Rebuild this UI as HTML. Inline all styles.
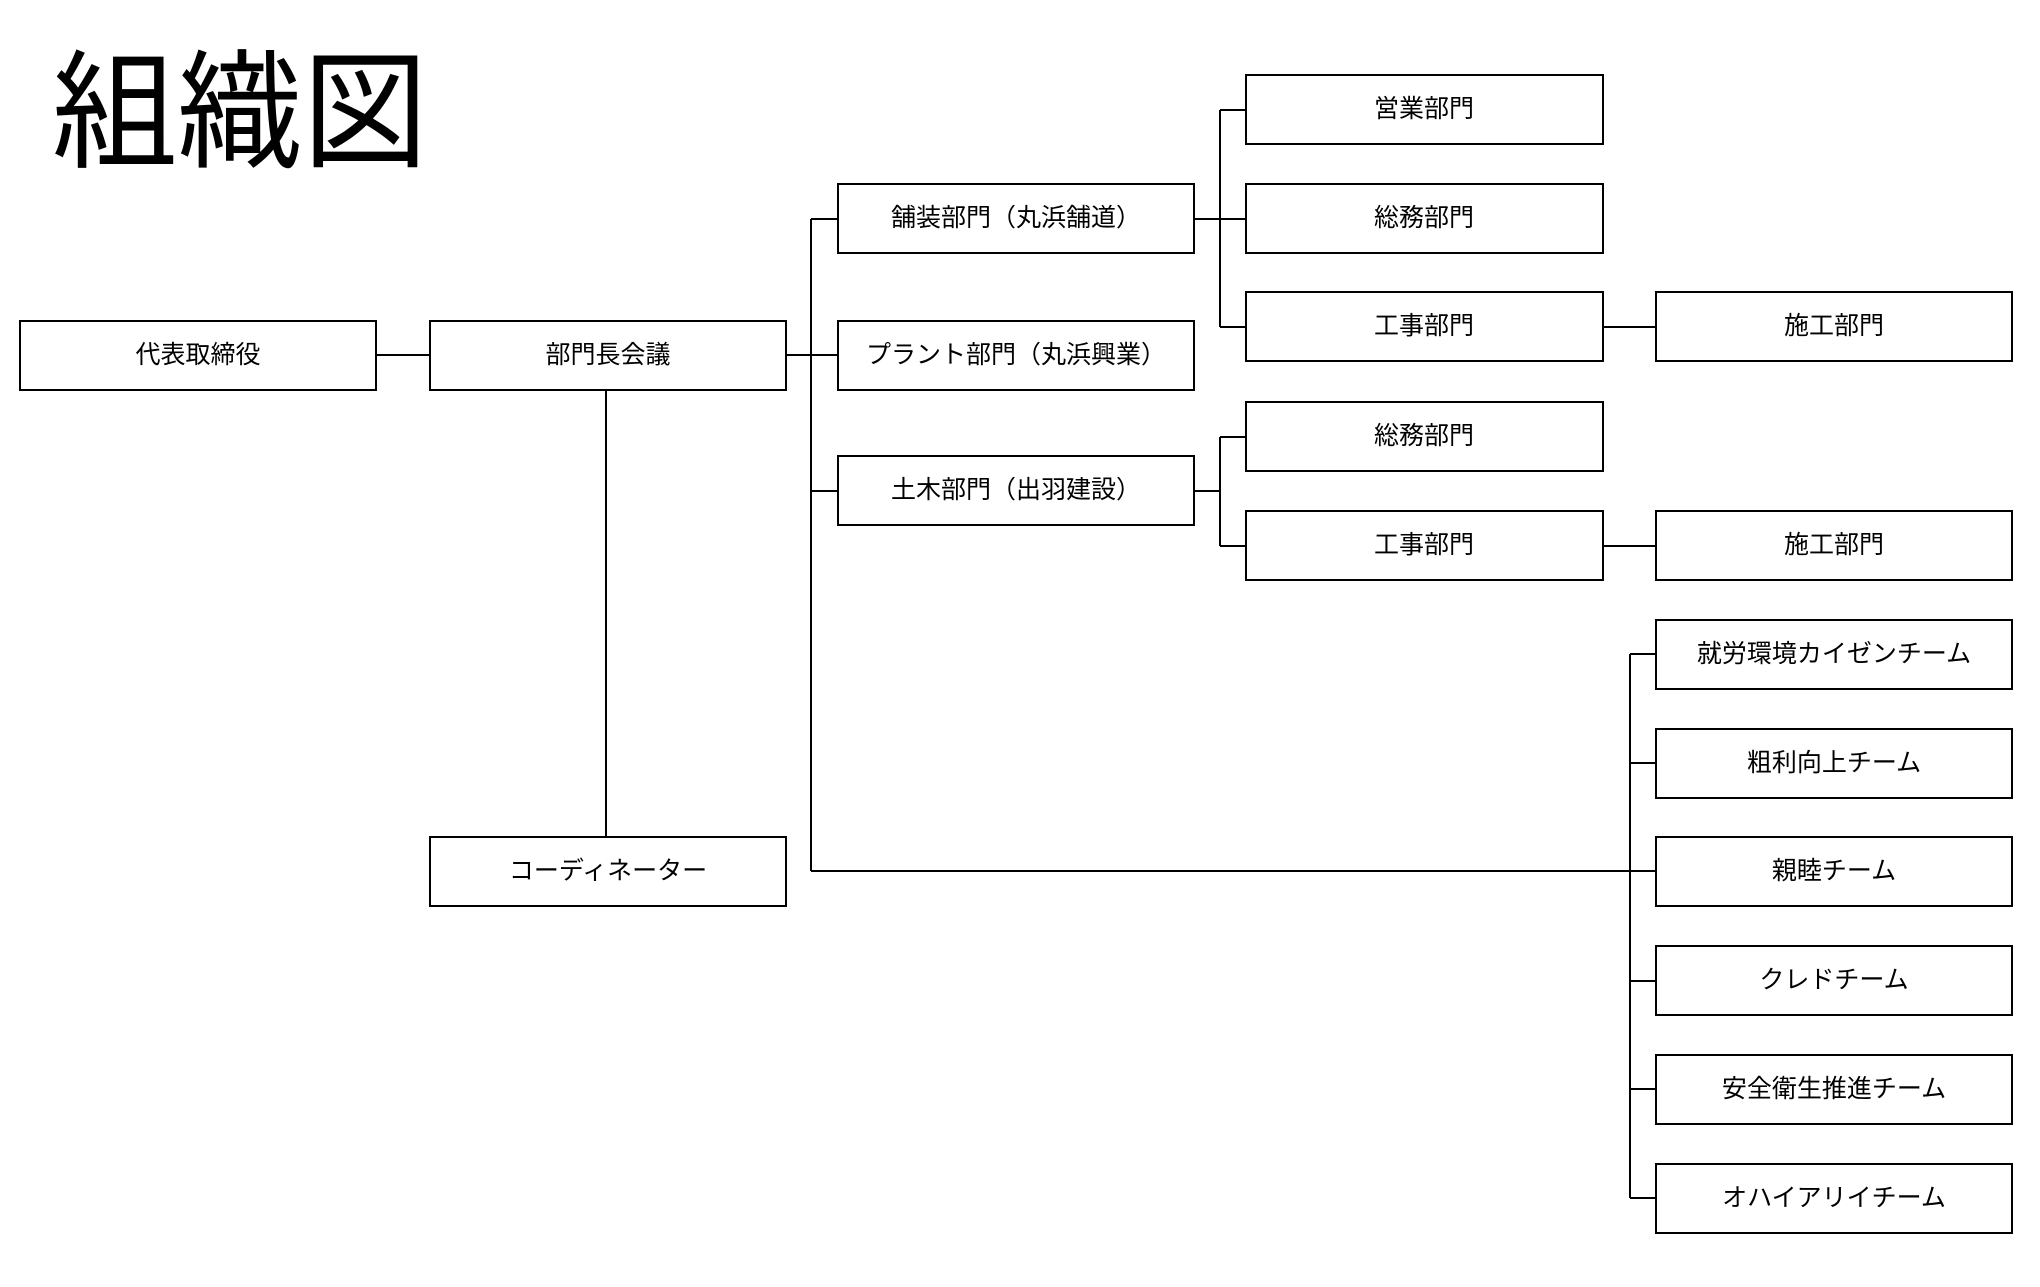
<!DOCTYPE html>
<html><head><meta charset="utf-8"><style>
html,body{margin:0;padding:0;background:#fff;}
svg{display:block}
text{font-family:"Liberation Sans","Noto Sans CJK JP",sans-serif;fill:#000;}
</style></head><body>
<svg width="2040" height="1287" viewBox="0 0 2040 1287" xmlns="http://www.w3.org/2000/svg">
<rect width="2040" height="1287" fill="#fff"/>
<text x="52" y="157" font-size="128" textLength="376" lengthAdjust="spacingAndGlyphs">組織図</text>
<g stroke="#000" stroke-width="2" fill="none">
<line x1="376" y1="355" x2="430" y2="355"/>
<line x1="786" y1="355" x2="838" y2="355"/>
<line x1="606" y1="390" x2="606" y2="837"/>
<line x1="811" y1="219" x2="811" y2="871"/>
<line x1="811" y1="219" x2="838" y2="219"/>
<line x1="811" y1="491" x2="838" y2="491"/>
<line x1="811" y1="871" x2="1656" y2="871"/>
<line x1="1194" y1="219" x2="1246" y2="219"/>
<line x1="1220" y1="110" x2="1220" y2="327"/>
<line x1="1220" y1="110" x2="1246" y2="110"/>
<line x1="1220" y1="327" x2="1246" y2="327"/>
<line x1="1194" y1="491" x2="1220" y2="491"/>
<line x1="1220" y1="437" x2="1220" y2="546"/>
<line x1="1220" y1="437" x2="1246" y2="437"/>
<line x1="1220" y1="546" x2="1246" y2="546"/>
<line x1="1603" y1="327" x2="1656" y2="327"/>
<line x1="1603" y1="546" x2="1656" y2="546"/>
<line x1="1630" y1="654" x2="1630" y2="1198"/>
<line x1="1630" y1="654" x2="1656" y2="654"/>
<line x1="1630" y1="763" x2="1656" y2="763"/>
<line x1="1630" y1="981" x2="1656" y2="981"/>
<line x1="1630" y1="1089" x2="1656" y2="1089"/>
<line x1="1630" y1="1198" x2="1656" y2="1198"/>
<rect x="20" y="321" width="356" height="69"/>
<rect x="430" y="321" width="356" height="69"/>
<rect x="430" y="837" width="356" height="69"/>
<rect x="838" y="184" width="356" height="69"/>
<rect x="838" y="321" width="356" height="69"/>
<rect x="838" y="456" width="356" height="69"/>
<rect x="1246" y="75" width="357" height="69"/>
<rect x="1246" y="184" width="357" height="69"/>
<rect x="1246" y="292" width="357" height="69"/>
<rect x="1246" y="402" width="357" height="69"/>
<rect x="1246" y="511" width="357" height="69"/>
<rect x="1656" y="292" width="356" height="69"/>
<rect x="1656" y="511" width="356" height="69"/>
<rect x="1656" y="620" width="356" height="69"/>
<rect x="1656" y="729" width="356" height="69"/>
<rect x="1656" y="837" width="356" height="69"/>
<rect x="1656" y="946" width="356" height="69"/>
<rect x="1656" y="1055" width="356" height="69"/>
<rect x="1656" y="1164" width="356" height="69"/>
</g>
<g font-size="25" text-anchor="middle" dominant-baseline="central">
<text x="198" y="355">代表取締役</text>
<text x="608" y="355">部門長会議</text>
<text x="608" y="871">コーディネーター</text>
<text x="1016" y="218">舗装部門（丸浜舗道）</text>
<text x="1016" y="355">プラント部門（丸浜興業）</text>
<text x="1016" y="490">土木部門（出羽建設）</text>
<text x="1424" y="109">営業部門</text>
<text x="1424" y="218">総務部門</text>
<text x="1424" y="326">工事部門</text>
<text x="1424" y="436">総務部門</text>
<text x="1424" y="545">工事部門</text>
<text x="1834" y="326">施工部門</text>
<text x="1834" y="545">施工部門</text>
<text x="1834" y="654">就労環境カイゼンチーム</text>
<text x="1834" y="763">粗利向上チーム</text>
<text x="1834" y="871">親睦チーム</text>
<text x="1834" y="980">クレドチーム</text>
<text x="1834" y="1089">安全衛生推進チーム</text>
<text x="1834" y="1198">オハイアリイチーム</text>
</g>
</svg>
</body></html>
